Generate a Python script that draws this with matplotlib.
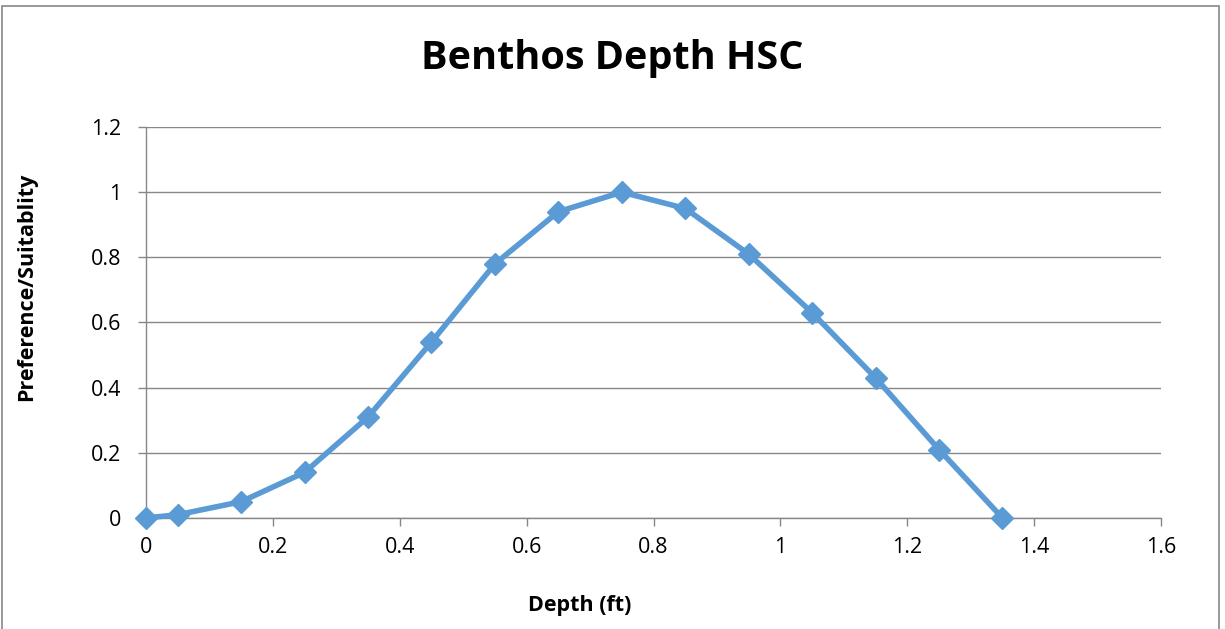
import matplotlib
matplotlib.use("Agg")
import matplotlib.pyplot as plt
from matplotlib.patches import Rectangle

# values
depth = [0, 0.05, 0.15, 0.25, 0.35, 0.45, 0.55, 0.65, 0.75, 0.85, 0.95, 1.05, 1.15, 1.25, 1.35]
suitability = [0, 0.01, 0.05, 0.14, 0.31, 0.54, 0.78, 0.94, 1.0, 0.95, 0.81, 0.63, 0.43, 0.21, 0]
xticks = [0, 0.2, 0.4, 0.6, 0.8, 1, 1.2, 1.4, 1.6]
yticks = [0, 0.2, 0.4, 0.6, 0.8, 1, 1.2]

plt.rcParams['font.family'] = ['Open Sans', 'DejaVu Sans']

fig = plt.figure(figsize=(12.25, 6.29), dpi=100)
ax = fig.add_axes([0.1192, 0.1765, 0.8286, 0.6216])

ax.plot(depth, suitability, color='#5B9BD5', linewidth=4, marker='D', markersize=11,
        markeredgecolor='#5B9BD5', markerfacecolor='#5B9BD5', clip_on=False, zorder=3)

ax.set_xlim(0, 1.6)
ax.set_ylim(0, 1.2)
ax.set_xticks(xticks)
ax.set_yticks(yticks)
ax.set_xticklabels(['0', '0.2', '0.4', '0.6', '0.8', '1', '1.2', '1.4', '1.6'])
ax.set_yticklabels(['0', '0.2', '0.4', '0.6', '0.8', '1', '1.2'])
ax.yaxis.grid(True, color='#878787', linewidth=1)
ax.set_axisbelow(True)

for s in ['top', 'right']:
    ax.spines[s].set_visible(False)
for s in ['left', 'bottom']:
    ax.spines[s].set_color('#878787')
    ax.spines[s].set_linewidth(1)
ax.tick_params(axis='both', colors='#878787', labelcolor='black', labelsize=15.5, length=6, width=1)
ax.tick_params(axis='x', pad=8)
ax.tick_params(axis='y', pad=12)

# title and axis titles placed on the figure, like the spreadsheet chart
fig.text(612 / 1225, 1 - 58 / 629, 'Benthos Depth HSC', fontsize=28.5, fontweight='bold',
         ha='center', va='center')
fig.text(580 / 1225, 1 - 605 / 629, 'Depth (ft)', fontsize=15.5, fontweight='bold',
         ha='center', va='center')
fig.text(27 / 1225, 1 - 287 / 629, 'Preference/Suitablity', fontsize=15.5, fontweight='bold',
         ha='center', va='center', rotation=90)

# chart border
fig.patches.append(Rectangle((2 / 1225, -0.05), 1217 / 1225, 1 - 6 / 629 + 0.05,
                             transform=fig.transFigure, fill=False, edgecolor='#878787',
                             linewidth=1.2))

fig.savefig('out.png', dpi=100)
